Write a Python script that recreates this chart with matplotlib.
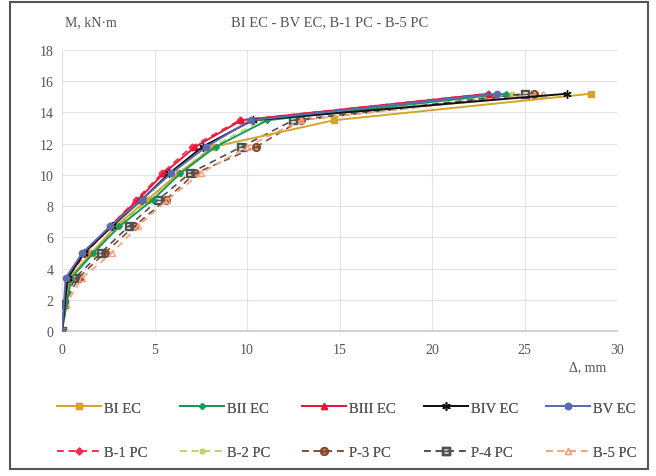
import matplotlib
matplotlib.use("Agg")
import matplotlib.pyplot as plt
from matplotlib.patches import Rectangle

plt.rcParams['font.family'] = ['Liberation Serif', 'DejaVu Serif']

# Data
M_EC = [0, 3.4, 5.0, 6.7, 8.4, 10.1, 11.8, 13.5, 15.2]
M_PC = [0, 1.7, 3.4, 5.0, 6.7, 8.4, 10.1, 11.8, 13.5, 15.2]

BI_EC = [0, 0.4, 1.6, 2.9, 4.6, 6.3, 8.2, 14.7, 28.6]
BII_EC = [0, 0.5, 1.7, 3.1, 4.9, 6.4, 8.3, 11.1, 24.0]
BIII_EC = [0, 0.3, 1.2, 2.6, 4.1, 5.5, 7.2, 9.7, 23.1]
BIV_EC = [0, 0.3, 1.2, 2.7, 4.3, 5.8, 7.6, 10.3, 27.3]
BV_EC = [0, 0.2, 1.1, 2.6, 4.3, 5.9, 7.8, 10.2, 23.5]

B1_PC = [0, 0.1, 0.3, 1.3, 2.6, 4.0, 5.4, 7.0, 9.6, 23.0]
B2_PC = [0, 0.1, 0.4, 1.6, 3.0, 4.7, 6.3, 8.1, 10.8, 24.3]
P3_PC = [0, 0.1, 0.9, 2.3, 3.9, 5.6, 7.2, 10.5, 12.9, 25.5]
P4_PC = [0, 0.1, 0.7, 2.1, 3.6, 5.2, 6.9, 9.7, 12.5, 25.0]
B5_PC = [0, 0.2, 1.1, 2.7, 4.1, 5.7, 7.5, 10.0, 12.9, 26.0]

x_ticks = [0, 5, 10, 15, 20, 25, 30]
y_ticks = [0, 2, 4, 6, 8, 10, 12, 14, 16, 18]

fig = plt.figure(figsize=(6.56, 4.77), dpi=100)
ax = fig.add_axes([62/656, 1-332/477, (617-62)/656, (332-51)/477])

ec_series = [
    ("BI EC", BI_EC, '#D4A52A', 's', 4.5),
    ("BII EC", BII_EC, '#159A5A', 'D', 3),
    ("BIII EC", BIII_EC, '#E8173A', '^', 4.5),
    ("BIV EC", BIV_EC, '#111111', (6, 2, 0), 6),
    ("BV EC", BV_EC, '#5B6BB0', 'o', 4.5),
]
pc_series = [
    ("B-1 PC", B1_PC, '#F0305A', 'D', 3.5, True),
    ("B-2 PC", B2_PC, '#B8D46A', 's', 3.5, True),
    ("P-3 PC", P3_PC, '#8B4A2E', r'$\ominus$', 5.5, False),
    ("P-4 PC", P4_PC, '#505050', r'$\boxminus$', 5.5, False),
    ("B-5 PC", B5_PC, '#F2A27A', '^', 4.5, False),
]

ec_handles = []
pc_handles = []
for name, xs, c, m, ms in ec_series:
    h, = ax.plot(xs, M_EC, color=c, marker=m, markersize=ms, lw=1.4,
                 markeredgecolor=c, markerfacecolor=c, label=name, zorder=3)
    ec_handles.append(h)
for name, xs, c, m, ms, filled in pc_series:
    if m.startswith('$'):
        h, = ax.plot(xs, M_PC, color=c, marker=m, markersize=ms, lw=1.2,
                     ls=(0, (4, 3)), label=name, zorder=2)
    else:
        h, = ax.plot(xs, M_PC, color=c, marker=m, markersize=ms, lw=1.2,
                     ls=(0, (4, 3)), markeredgecolor=c,
                     markerfacecolor=c if filled else 'none', label=name, zorder=2)
    pc_handles.append(h)

ax.set_xlim(0, 30)
ax.set_ylim(0, 18)
ax.set_xticks(x_ticks)
ax.set_yticks(y_ticks)
ax.grid(True, color='#E3E3E3', lw=0.8)
ax.set_axisbelow(True)
for s in ['top', 'right', 'left']:
    ax.spines[s].set_visible(False)
ax.spines['bottom'].set_color('#C8C8C8')
ax.spines['bottom'].set_linewidth(1.2)
ax.tick_params(length=0, labelsize=10, colors='#555555', pad=6)
ax.tick_params(axis='x', pad=9)

fig.text(65/656, 1-23/477, "M, kN·m", fontsize=10, color='#555555', va='center')
fig.text(330/656, 1-23/477, "BI EC - BV EC, B-1 PC - B-5 PC", fontsize=10.5,
         color='#555555', va='center', ha='center')
fig.text(588/656, 1-368/477, "Δ, mm", fontsize=10, color='#555555', va='center', ha='center')

# one legend entry per slot, laid out on a fixed grid like the original
col_x = [57, 180, 302, 424, 546]
row_y = [409, 453]
for row, hs in enumerate([ec_handles, pc_handles]):
    for col, h in enumerate(hs):
        leg = fig.legend(handles=[h], loc='center left',
                         bbox_to_anchor=(col_x[col]/656, 1-row_y[row]/477),
                         frameon=False, fontsize=10.5, handlelength=3.0,
                         handletextpad=0.2, borderpad=0, borderaxespad=0)
        for t in leg.get_texts():
            t.set_color('#555555')
        fig.add_artist(leg)

fig.patches.append(Rectangle((10/656, 1-470/477), 638/656, 467/477,
                             transform=fig.transFigure, fill=False,
                             edgecolor='#555555', lw=1.5))

fig.savefig("out.png", dpi=100)
